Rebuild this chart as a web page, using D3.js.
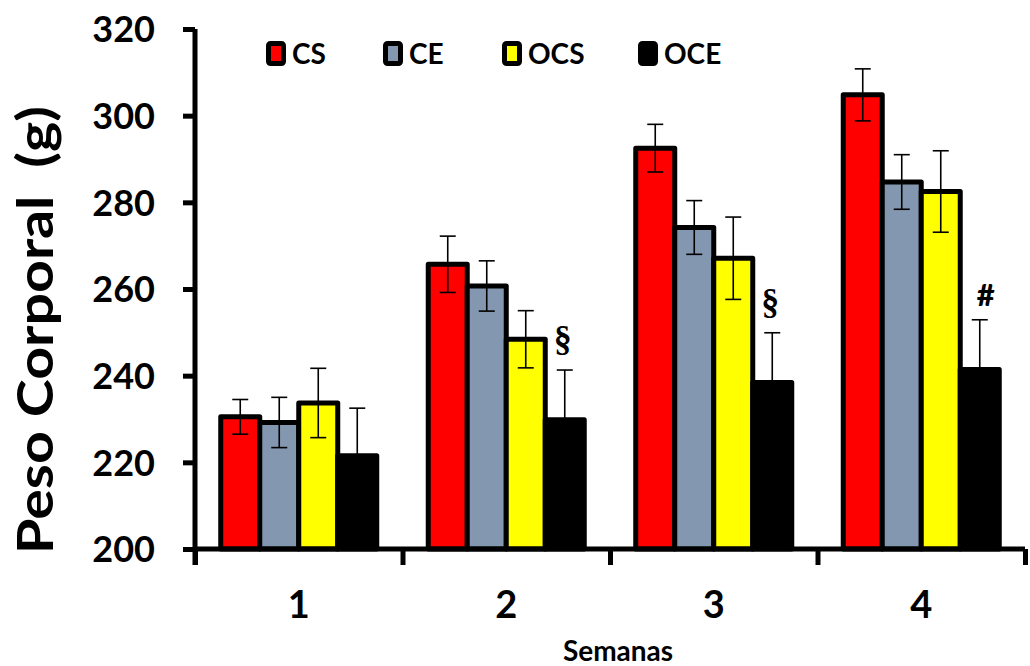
<!DOCTYPE html>
<html>
<head>
<meta charset="utf-8">
<script src="https://cdn.jsdelivr.net/npm/d3@7"></script>
<style>
  body { margin: 0; background: #fff; }
  text { font-family: Lato, "Open Sans", sans-serif; font-weight: bold; fill: #000; }
</style>
</head>
<body>
<script>
var weeks = ["1", "2", "3", "4"];
var groups = ["CS", "CE", "OCS", "OCE"];
var colors = ["#ff0000", "#8497b0", "#ffff00", "#000000"];

// mean body weight (g) per week, one array per group
var meanCS  = [230.5, 265.7, 292.5, 304.8];
var meanCE  = [229.2, 260.7, 274.2, 284.7];
var meanOCS = [233.7, 248.4, 267.1, 282.5];
var meanOCE = [221.5, 229.8, 238.4, 241.4];

// standard error per week
var errCS  = [4.0, 6.5, 5.5, 6.0];
var errCE  = [5.8, 5.8, 6.2, 6.3];
var errOCS = [8.0, 6.6, 9.5, 9.4];
var errOCE = [11.0, 11.5, 11.5, 11.5];

// significance marks above the OCE bars
var marks = ["", "§", "§", "#"];

var yTicks = [200, 220, 240, 260, 280, 300, 320];

var means = [meanCS, meanCE, meanOCS, meanOCE];
var errs = [errCS, errCE, errOCS, errOCE];

var width = 1030, height = 666;
var margin = {top: 29, right: 5, bottom: 117, left: 195};

var svg = d3.select("body").append("svg")
    .attr("width", width)
    .attr("height", height);

var x = d3.scaleBand()
    .domain(weeks)
    .range([margin.left, width - margin.right])
    .padding(0);

var xs = d3.scaleBand()
    .domain(groups)
    .range([0, x.bandwidth()])
    .paddingInner(0)
    .paddingOuter(0.66);

var y = d3.scaleLinear()
    .domain([200, 320])
    .range([height - margin.bottom, margin.top]);

var data = [];
weeks.forEach(function(w, i) {
  groups.forEach(function(g, j) {
    data.push({week: w, group: g, j: j, value: means[j][i], err: errs[j][i]});
  });
});

// bars
svg.append("g").selectAll("rect")
    .data(data)
  .enter().append("rect")
    .attr("x", function(d) { return x(d.week) + xs(d.group); })
    .attr("y", function(d) { return y(d.value); })
    .attr("width", xs.bandwidth())
    .attr("height", function(d) { return y(200) - y(d.value); })
    .attr("fill", function(d) { return colors[d.j]; })
    .attr("stroke", "#000")
    .attr("stroke-width", 5)
    .attr("stroke-linejoin", "round");

// error bars
var eb = svg.append("g").selectAll("g")
    .data(data)
  .enter().append("g")
    .attr("transform", function(d) { return "translate(" + (x(d.week) + xs(d.group) + xs.bandwidth() / 2) + ",0)"; })
    .attr("stroke", "#000")
    .attr("stroke-width", 1.6);

eb.append("line")
    .attr("y1", function(d) { return y(d.value - d.err); })
    .attr("y2", function(d) { return y(d.value + d.err); });
eb.append("line")
    .attr("x1", -8).attr("x2", 8)
    .attr("y1", function(d) { return y(d.value + d.err); })
    .attr("y2", function(d) { return y(d.value + d.err); });
eb.append("line")
    .attr("x1", -8).attr("x2", 8)
    .attr("y1", function(d) { return y(d.value - d.err); })
    .attr("y2", function(d) { return y(d.value - d.err); });

// significance marks
svg.append("g").selectAll("text")
    .data(weeks)
  .enter().append("text")
    .attr("x", function(w, i) { return x(w) + xs("OCE") + xs.bandwidth() / 2 + (i === 3 ? 6 : -2); })
    .attr("y", function(w, i) { return y(meanOCE[i] + errOCE[i]) - (i === 3 ? 14 : 19); })
    .attr("text-anchor", "middle")
    .style("font-family", function(w, i) { return i === 3 ? "Lato, sans-serif" : "'Liberation Serif', serif"; })
    .style("font-size", function(w, i) { return i === 3 ? "31px" : "36px"; })
    .style("font-weight", function(w, i) { return i === 3 ? 900 : "bold"; })
    .text(function(w, i) { return marks[i]; });

// y axis
var yAxis = svg.append("g")
    .attr("transform", "translate(" + margin.left + ",0)")
    .call(d3.axisLeft(y).tickValues(yTicks).tickSize(12).tickPadding(28));
yAxis.select(".domain").attr("stroke-width", 5).attr("d", "M0," + y(320) + "V" + (y(200) + 16));
yAxis.selectAll(".tick line").attr("stroke-width", 5);
yAxis.selectAll(".tick text").style("font-size", "36px").attr("dy", "0.36em");

// x axis: boundary ticks
var xb = d3.scaleLinear().domain([0, 4]).range([margin.left, width - margin.right]);
var xAxis = svg.append("g")
    .attr("transform", "translate(0," + y(200) + ")")
    .call(d3.axisBottom(xb).ticks(4).tickSize(16).tickFormat(""));
xAxis.select(".domain").attr("stroke-width", 5).attr("d", "M" + margin.left + ",0H" + (width - margin.right));
xAxis.selectAll(".tick line").attr("stroke-width", 5);

// x labels
svg.append("g")
    .attr("transform", "translate(0," + y(200) + ")")
    .call(d3.axisBottom(x).tickSize(0).tickPadding(42))
    .call(function(g) { g.select(".domain").remove(); })
    .selectAll("text").style("font-size", "38px");

// axis titles
svg.append("text")
    .attr("x", 618)
    .attr("y", 661)
    .attr("text-anchor", "middle")
    .style("font-size", "28px")
    .text("Semanas");

svg.append("text")
    .attr("transform", "translate(53,554) rotate(-90)")
    .attr("text-anchor", "start")
    .style("font-size", "50px")
    .style("white-space", "pre")
    .attr("textLength", 448)
    .attr("lengthAdjust", "spacingAndGlyphs")
    .text("Peso Corporal  (g)");

// legend
var legX = [266, 383, 502, 638];
var leg = svg.append("g").selectAll("g")
    .data(groups)
  .enter().append("g")
    .attr("transform", function(d, i) { return "translate(" + legX[i] + ",41)"; });
leg.append("rect")
    .attr("x", 2.5).attr("y", 2.5)
    .attr("width", 15).attr("height", 20)
    .attr("rx", 2)
    .attr("fill", function(d, i) { return colors[i]; })
    .attr("stroke", "#000")
    .attr("stroke-width", 5);
leg.append("text")
    .attr("x", 26)
    .attr("y", 23)
    .style("font-size", "28px")
    .text(function(d) { return d; });
</script>
</body>
</html>
